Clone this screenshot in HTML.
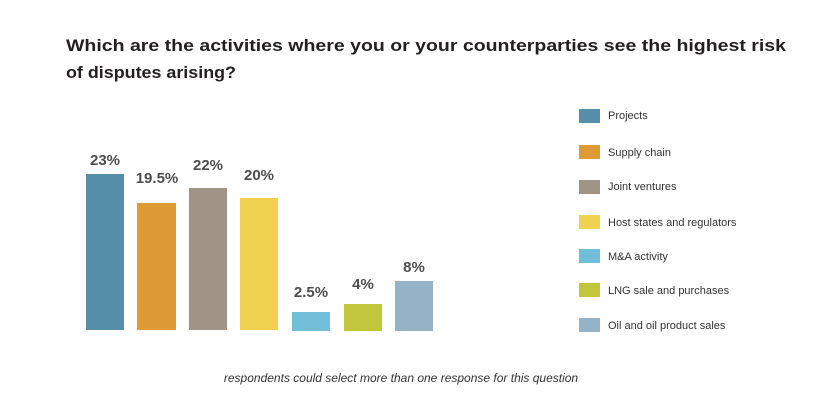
<!DOCTYPE html>
<html><head><meta charset="utf-8"><style>
html,body{margin:0;padding:0;background:#fff;}
svg{display:block;}
</style></head><body>
<svg width="840" height="420" xmlns="http://www.w3.org/2000/svg" font-family="Liberation Sans, sans-serif">
<rect width="840" height="420" fill="#fff"/>
<text x="66" y="51" font-size="17" font-weight="bold" fill="#231f20" textLength="720" lengthAdjust="spacingAndGlyphs">Which are the activities where you or your counterparties see the highest risk</text>
<text x="66" y="78" font-size="17" font-weight="bold" fill="#231f20" textLength="170" lengthAdjust="spacingAndGlyphs">of disputes arising?</text>
<g>
<rect x="86" y="174" width="38" height="156" fill="#558ea9"/>
<rect x="137" y="203" width="39" height="127" fill="#de9a35"/>
<rect x="189" y="188" width="38" height="142" fill="#a09486"/>
<rect x="240" y="198" width="38" height="132" fill="#f0d250"/>
<rect x="292" y="312" width="38" height="19" fill="#72bdd7"/>
<rect x="344" y="304" width="38" height="27" fill="#c2c63c"/>
<rect x="395" y="281" width="38" height="50" fill="#95b3c6"/>
</g>
<g font-size="15" font-weight="bold" fill="#4d4d4d" text-anchor="middle">
<text x="105" y="165">23%</text>
<text x="157" y="183">19.5%</text>
<text x="208" y="170">22%</text>
<text x="259" y="180">20%</text>
<text x="311" y="297">2.5%</text>
<text x="363" y="289">4%</text>
<text x="414" y="272">8%</text>
</g>
<g>
<rect x="579" y="109" width="21" height="14" fill="#558ea9"/>
<rect x="579" y="145" width="21" height="14" fill="#de9a35"/>
<rect x="579" y="180" width="21" height="14" fill="#a09486"/>
<rect x="579" y="215" width="21" height="14" fill="#f0d250"/>
<rect x="579" y="249" width="21" height="14" fill="#72bdd7"/>
<rect x="579" y="283" width="21" height="14" fill="#c2c63c"/>
<rect x="579" y="318" width="21" height="14" fill="#95b3c6"/>
</g>
<g font-size="11" fill="#333">
<text x="608" y="119">Projects</text>
<text x="608" y="156">Supply chain</text>
<text x="608" y="190">Joint ventures</text>
<text x="608" y="226">Host states and regulators</text>
<text x="608" y="260">M&amp;A activity</text>
<text x="608" y="294">LNG sale and purchases</text>
<text x="608" y="329">Oil and oil product sales</text>
</g>
<text x="401" y="382" font-size="12" font-style="italic" fill="#333" text-anchor="middle">respondents could select more than one response for this question</text>
</svg>
</body></html>
